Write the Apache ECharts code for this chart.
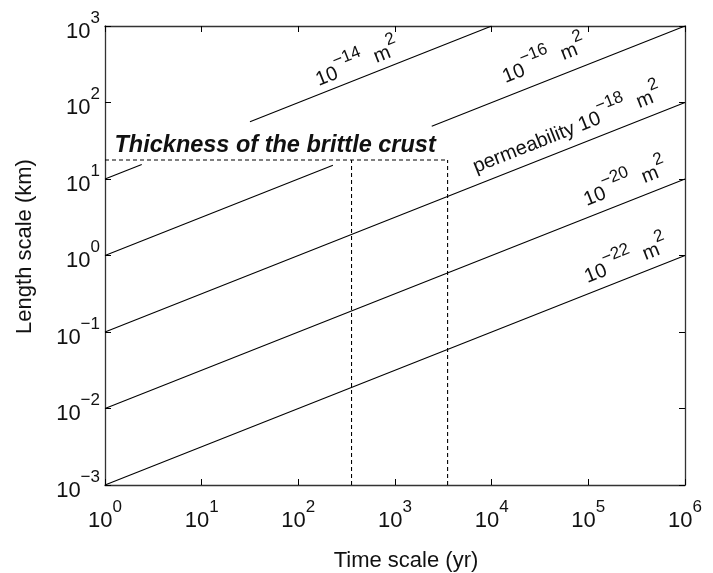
<!DOCTYPE html>
<html>
<head>
<meta charset="utf-8">
<script src="https://cdn.jsdelivr.net/npm/echarts@6/dist/echarts.min.js"></script>
<style>
  html, body { margin: 0; padding: 0; background: #fff; }
  #container { width: 713px; height: 573px; }
</style>
</head>
<body>
<div id="container"></div>
<script>
// axis extents (decades)
var timeRange = [1, 1e6];
var lengthRange = [1e-3, 1e3];

// permeability lines, segment end points [yr, km]
var perm14a = [[1, 10], [2.4, 15.5]];
var perm14b = [[31.6, 56.2], [1e4, 1000]];
var perm16a = [[1, 1], [228, 15.1]];
var perm16b = [[2400, 49], [1e6, 1000]];
var perm18 = [[1, 0.1], [1e6, 100]];
var perm20 = [[1, 0.01], [1e6, 10]];
var perm22 = [[1, 0.001], [1e6, 1]];

// brittle crust box (dotted)
var crustTop = [[1, 17.7], [3500, 17.7]];
var crustLeft = [[355, 0.001], [355, 17.7]];
var crustRight = [[3500, 0.001], [3500, 17.7]];

// line labels
var labelPrefix = ['', '', 'permeability ', '', ''];
var labelExp = ['\u221214', '\u221216', '\u221218', '\u221220', '\u221222'];
var labelSpots = [[394, 360], [33800, 393], [58500, 49.3], [233000, 9.7], [238000, 0.955]];

var TXT = '#111';
var FONT = 'Liberation Sans, Arial, Helvetica, sans-serif';
var slopeAngle = 21.6;

var myChart = echarts.init(document.getElementById('container'));

function powLabel(v) {
    var e = Math.round(Math.log10(v));
    var s = e < 0 ? '\u2212' + (-e) : '' + e;
    return '{b|10}{s|' + s + '}';
}

var tickRich = {
    b: { fontSize: 22, fontFamily: FONT, color: TXT, lineHeight: 33, verticalAlign: 'bottom' },
    s: { fontSize: 17, fontFamily: FONT, color: TXT, lineHeight: 17, verticalAlign: 'top' }
};

function lineSeries(data, dashed) {
    return {
        type: 'line',
        data: data,
        xAxisIndex: 0,
        yAxisIndex: 0,
        symbol: 'none',
        silent: true,
        animation: false,
        lineStyle: { color: '#000', width: 1.1, type: dashed ? [4, 3] : 'solid' }
    };
}

var axisCommon = {
    type: 'log',
    logBase: 10,
    interval: 1,
    axisLine: { show: true, onZero: false, lineStyle: { color: '#333', width: 1.3 } },
    axisTick: { show: true, inside: true, length: 6, lineStyle: { color: '#000' } },
    splitLine: { show: false },
    minorTick: { show: false }
};

var option = {
    animation: false,
    backgroundColor: '#fff',
    grid: { left: 105, top: 26, width: 580, height: 459, containLabel: false, outerBoundsMode: 'none' },
    xAxis: [
        Object.assign({}, axisCommon, {
            position: 'bottom',
            min: timeRange[0], max: timeRange[1],
            name: 'Time scale (yr)',
            nameLocation: 'middle',
            nameGap: 76,
            nameTextStyle: { fontSize: 22, fontFamily: FONT, color: TXT, verticalAlign: 'middle', padding: [0, 0, 0, 22] },
            axisLabel: { margin: 14, formatter: powLabel, rich: tickRich }
        }),
        Object.assign({}, axisCommon, {
            position: 'top',
            min: timeRange[0], max: timeRange[1],
            axisLabel: { show: false }
        })
    ],
    yAxis: [
        Object.assign({}, axisCommon, {
            position: 'left',
            min: lengthRange[0], max: lengthRange[1],
            name: 'Length scale (km)',
            nameLocation: 'middle',
            nameGap: 80,
            nameTextStyle: { fontSize: 22, fontFamily: FONT, color: TXT, verticalAlign: 'middle', padding: [0, 0, 0, 18] },
            axisLabel: { margin: 5, formatter: powLabel, rich: tickRich }
        }),
        Object.assign({}, axisCommon, {
            position: 'right',
            min: lengthRange[0], max: lengthRange[1],
            axisLabel: { show: false }
        })
    ],
    series: [
        lineSeries(perm14a), lineSeries(perm14b),
        lineSeries(perm16a), lineSeries(perm16b),
        lineSeries(perm18), lineSeries(perm20), lineSeries(perm22),
        lineSeries(crustTop, true), lineSeries(crustLeft, true), lineSeries(crustRight, true),
        {
            type: 'scatter',
            silent: true,
            symbolSize: 1,
            itemStyle: { color: 'transparent', opacity: 1 },
            data: labelSpots.map(function (p, i) {
                return {
                    value: p,
                    label: {
                        formatter: (labelPrefix[i] ? '{b|' + labelPrefix[i] + '}' : '') +
                            '{b|10}{s|' + labelExp[i] + '}{b|  m}{s|2}'
                    }
                };
            }),
            label: {
                show: true,
                position: 'inside',
                rotate: slopeAngle,
                opacity: 1,
                rich: {
                    b: { fontSize: 20, fontFamily: FONT, color: TXT, lineHeight: 30, verticalAlign: 'bottom' },
                    s: { fontSize: 17, fontFamily: FONT, color: TXT, lineHeight: 17, verticalAlign: 'top' }
                }
            }
        },
        {
            type: 'scatter',
            silent: true,
            symbolSize: 1,
            itemStyle: { color: 'transparent', opacity: 1 },
            data: [crustTop[0]],
            label: {
                show: true,
                position: [10, -3],
                align: 'left',
                verticalAlign: 'bottom',
                opacity: 1,
                formatter: 'Thickness of the brittle crust',
                fontSize: 23.5,
                fontWeight: 'bold',
                fontStyle: 'italic',
                fontFamily: FONT,
                color: TXT
            }
        }
    ]
};

myChart.setOption(option);
</script>
</body>
</html>
